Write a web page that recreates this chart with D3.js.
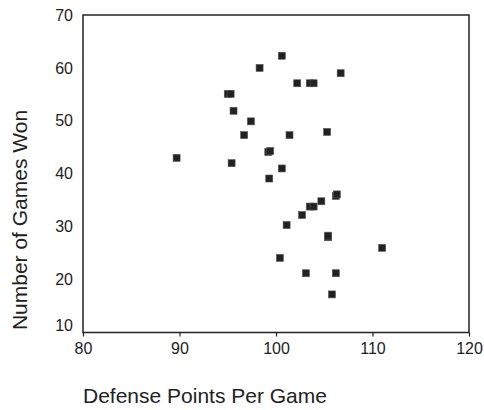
<!DOCTYPE html>
<html>
<head>
<meta charset="utf-8">
<script src="https://cdn.jsdelivr.net/npm/d3@7"></script>
<style>
  body { margin: 0; background: #fff; }
  text { font-family: "Liberation Sans", Arial, sans-serif; fill: #222; }
</style>
</head>
<body>
<div id="chart"></div>
<script>
// defense points per game (x) and games won (y)
var defensePoints = [89.7, 95.0, 95.3, 95.6, 95.4, 97.4, 96.7, 98.3, 100.6, 99.2, 99.4, 99.3, 100.6, 101.4,
  102.2, 103.5, 103.9, 106.7, 105.3, 106.2, 106.3, 104.7, 103.5, 103.9, 102.7, 101.1, 105.4, 105.4,
  111.0, 100.4, 103.1, 106.2, 105.8]
var gamesWon = [43.0, 55.1, 55.1, 51.9, 42.0, 49.9, 47.3, 60.0, 62.3, 44.1, 44.3, 39.1, 41.0, 47.3,
  57.1, 57.1, 57.1, 59.0, 47.9, 35.8, 36.1, 34.8, 33.8, 33.8, 32.2, 30.3, 28.0, 28.3,
  26.0, 24.1, 21.2, 21.2, 17.2]
var xTicks = [80, 90, 100, 110, 120]
var yTicks = [10, 20, 30, 40, 50, 60, 70]

var width = 484,
  height = 410

var svg = d3.select("#chart")
  .append("svg")
  .attr("width", width)
  .attr("height", height)

var x = d3.scaleLinear().domain([80, 120]).range([83, 469])
var y = d3.scaleLinear().domain([10, 70]).range([332.5, 15])

// frame
svg.append("rect")
  .attr("x", x(80))
  .attr("y", y(70))
  .attr("width", x(120) - x(80))
  .attr("height", y(10) - y(70))
  .attr("fill", "none")
  .attr("stroke", "#222")
  .attr("stroke-width", 1.5)

var xAxis = svg.append("g")
  .attr("transform", "translate(0," + y(10) + ")")
  .call(d3.axisBottom(x).tickValues(xTicks).tickSize(4).tickPadding(6))
xAxis.select(".domain").remove()
xAxis.selectAll("line").attr("stroke", "#222").attr("stroke-width", 1.2)
xAxis.selectAll("text").style("font-size", "16px").attr("fill", "#222")

var yAxis = svg.append("g")
  .attr("transform", "translate(" + x(80) + ",0)")
  .call(d3.axisLeft(y).tickValues(yTicks).tickSize(0).tickPadding(10))
yAxis.select(".domain").remove()
yAxis.selectAll("text").style("font-size", "16px").attr("fill", "#222")
  .attr("dy", function (d) { return d === 10 ? "-0.1em" : "0.32em" })

var points = d3.range(defensePoints.length)
var s = 7

svg.selectAll("rect.pt")
  .data(points)
  .enter()
  .append("rect")
  .attr("class", "pt")
  .attr("x", function (i) { return x(defensePoints[i]) - s / 2 })
  .attr("y", function (i) { return y(gamesWon[i]) - s / 2 })
  .attr("width", s)
  .attr("height", s)
  .attr("fill", "#222")
  .attr("stroke", "#555")
  .attr("stroke-width", 0.6)

svg.append("text")
  .attr("x", 83)
  .attr("y", 403)
  .style("font-size", "21px")
  .text("Defense Points Per Game")

svg.append("text")
  .attr("transform", "translate(27," + 220 + ") rotate(-90)")
  .attr("text-anchor", "middle")
  .style("font-size", "21px")
  .text("Number of Games Won")
</script>
</body>
</html>
